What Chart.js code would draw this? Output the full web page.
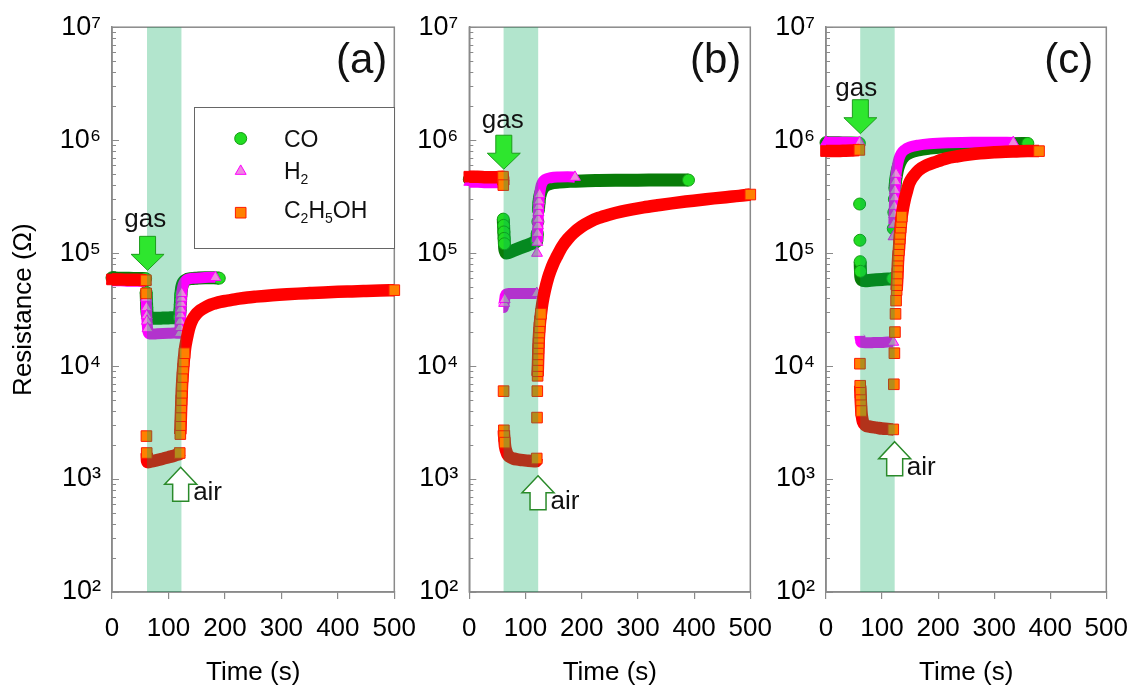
<!DOCTYPE html>
<html><head><meta charset="utf-8">
<script src="https://cdn.jsdelivr.net/npm/chart.js@4.4.0/dist/chart.umd.min.js"></script>
<style>
html,body{margin:0;padding:0;background:#fff;width:1142px;height:691px;overflow:hidden;}
canvas{position:absolute;top:0;}
</style></head>
<body>
<canvas id="ca" width="430" height="691" style="left:0px;width:430px;height:691px"></canvas>
<canvas id="cb" width="386" height="691" style="left:400px;width:386px;height:691px"></canvas>
<canvas id="cc" width="382" height="691" style="left:760px;width:382px;height:691px"></canvas>
<script>
// ---------------- DATA ----------------
const seriesNames = ['CO', 'H₂', 'C₂H₅OH'];
const panelLabels = ['(a)', '(b)', '(c)'];

// Panel (a)
const tA_CO = [0, 15, 30, 45, 59.5, 60.5, 61, 61.5, 62, 63, 64, 66, 70, 80, 90, 100, 110, 119.5, 120.5, 121, 121.5, 122, 123, 124, 126, 129, 133, 140, 150, 165, 180, 190];
const rA_CO = [60500, 60000, 60000, 59500, 59500, 45000, 38000, 33000, 30000, 28000, 27000, 26600, 26500, 26500, 26600, 26700, 26800, 27000, 31000, 35000, 39000, 43000, 48000, 51000, 54500, 57000, 58500, 59500, 60000, 60500, 60500, 60000];
const tA_H2 = [0, 15, 30, 45, 60, 60.5, 61, 61.5, 62, 62.5, 63, 64, 66, 70, 80, 90, 100, 110, 120, 120.5, 121, 121.5, 122, 122.5, 123, 123.5, 124.5, 126, 128, 131, 135, 145, 160, 172, 183];
const rA_H2 = [57000, 57000, 56500, 56500, 56000, 40000, 33000, 28000, 25000, 23000, 21500, 20000, 19300, 19200, 19300, 19400, 19500, 19600, 19500, 22000, 25000, 28500, 32000, 36000, 40000, 44000, 48000, 52000, 55000, 57500, 59000, 60000, 60500, 61000, 61000];
const tA_Et = [0, 15, 30, 45, 60, 60.5, 61, 61.5, 62, 64, 67, 70, 80, 90, 100, 110, 117, 120, 121, 121.5, 122, 122.5, 123, 123.5, 124, 125, 126, 127, 128.5, 130, 132, 134, 136, 139, 142, 146, 150, 155, 160, 167, 175, 183, 192, 202, 212, 225, 240, 255, 270, 290, 310, 330, 350, 375, 400, 425, 450, 475, 500];
const rA_Et = [58500, 58500, 58000, 58000, 57500, 44000, 2400, 1700, 1450, 1410, 1420, 1430, 1470, 1510, 1560, 1610, 1650, 1700, 2500, 3000, 3600, 4300, 5000, 5800, 6700, 8000, 9500, 11000, 13000, 15000, 17000, 19000, 21000, 23500, 25500, 27500, 29200, 30800, 32000, 33500, 35000, 36000, 37000, 37800, 38500, 39500, 40500, 41200, 41800, 42500, 43200, 43800, 44300, 44900, 45400, 45800, 46200, 46600, 47000];

// Panel (b)
const tB_CO = [0, 15, 30, 45, 59.5, 60.5, 61, 61.5, 62, 62.5, 63, 64, 66, 70, 80, 90, 100, 110, 118, 120, 121, 122, 123, 124, 125, 127, 130, 135, 145, 160, 180, 200, 230, 260, 290, 320, 350, 380, 390];
const rB_CO = [450000, 450000, 445000, 445000, 440000, 200000, 176000, 154000, 135000, 121000, 110000, 104000, 100000, 101000, 106000, 111000, 116000, 121000, 126000, 128000, 150000, 190000, 240000, 280000, 310000, 340000, 370000, 395000, 415000, 425000, 432000, 436000, 439000, 441000, 442000, 443000, 443000, 443000, 443000];
const tB_H2 = [0, 15, 30, 45, 60, 60.5, 61, 62, 63, 64, 66, 70, 80, 90, 100, 110, 120, 120.5, 121, 121.5, 122, 122.5, 123, 123.5, 124, 125, 126.5, 128, 131, 135, 145, 160, 175, 188];
const rB_H2 = [425000, 425000, 420000, 420000, 420000, 33000, 34000, 36000, 39000, 42000, 43500, 44000, 44000, 44000, 44000, 44000, 44000, 100000, 125000, 150000, 175000, 200000, 230000, 260000, 290000, 330000, 370000, 400000, 430000, 450000, 465000, 472000, 475000, 470000];
const tB_Et = [0, 15, 30, 45, 60, 60.5, 61, 61.5, 62, 63, 64, 66, 68, 72, 78, 85, 95, 105, 115, 119, 120, 120.5, 121, 121.5, 121.8, 122.1, 122.4, 122.7, 123, 123.4, 123.8, 124.3, 125, 126, 127.5, 130, 135, 140, 145, 150, 155, 165, 175, 185, 200, 215, 230, 250, 270, 290, 310, 335, 360, 385, 410, 435, 460, 480, 500];
const rB_Et = [475000, 475000, 470000, 470000, 475000, 400000, 6000, 2700, 2400, 2100, 1900, 1750, 1650, 1570, 1520, 1490, 1470, 1450, 1440, 1440, 1520, 3500, 6000, 8200, 9000, 10000, 11300, 12700, 14300, 16000, 17800, 19800, 22000, 25000, 29000, 36000, 48000, 60000, 71000, 82000, 92000, 114000, 133000, 150000, 172000, 190000, 205000, 220000, 233000, 244000, 254000, 265000, 276000, 286000, 295000, 305000, 314000, 321000, 330000];

// Panel (c)
const tC_CO = [0, 15, 30, 45, 59.5, 60, 60.5, 61, 61.5, 62, 64, 70, 80, 90, 100, 110, 119, 120, 121, 122, 123, 124, 126, 128, 131, 135, 140, 150, 165, 185, 210, 240, 270, 300, 330, 360];
const rC_CO = [950000, 950000, 945000, 945000, 940000, 272000, 130000, 84000, 69000, 62000, 58000, 57000, 57500, 58000, 58500, 59000, 59500, 165000, 230000, 300000, 370000, 430000, 500000, 560000, 620000, 680000, 730000, 780000, 820000, 850000, 875000, 895000, 910000, 920000, 930000, 935000];
const tC_H2 = [0, 15, 30, 45, 60, 60.5, 61, 62, 64, 70, 80, 90, 100, 110, 120, 120.5, 121, 121.5, 122, 122.5, 123, 124, 125, 127, 130, 134, 140, 150, 165, 185, 220, 260, 300, 334];
const rC_H2 = [960000, 960000, 960000, 955000, 955000, 18500, 17500, 16500, 16200, 16100, 16100, 16200, 16200, 16300, 16300, 140000, 180000, 220000, 260000, 310000, 360000, 430000, 500000, 580000, 680000, 760000, 820000, 870000, 905000, 930000, 950000, 960000, 960000, 955000];
const tC_Et = [0, 15, 30, 45, 59.5, 60.5, 61, 61.5, 62, 62.5, 63, 64, 66, 70, 80, 90, 100, 110, 120, 121, 122, 123, 124, 125, 126, 126.5, 127, 127.5, 128, 128.5, 129, 130, 130.7, 131.4, 132, 133, 134, 135, 136.5, 138, 140, 142, 144.5, 148, 152, 156, 165, 180, 195, 215, 235, 255, 275, 300, 320, 340, 360, 380];
const rC_Et = [800000, 800000, 805000, 810000, 820000, 10500, 6700, 5800, 5000, 4500, 4000, 3600, 3200, 3000, 2900, 2850, 2800, 2780, 2750, 6900, 13000, 20000, 29000, 38000, 47000, 52000, 58000, 66000, 76000, 86000, 95000, 106000, 120000, 134000, 148000, 168000, 188000, 210000, 235000, 260000, 290000, 320000, 355000, 410000, 450000, 480000, 540000, 600000, 640000, 690000, 720000, 745000, 765000, 780000, 790000, 795000, 800000, 800000];

// gas exposure window (s)
const gasOnT = [62, 61, 61];
const gasOffT = [123, 122.6, 122.5];

// axis ticks
const xTicks = [0, 100, 200, 300, 400, 500];
const yMajor = [1e2, 1e3, 1e4, 1e5, 1e6, 1e7];
const yMajorLabels = ['10²', '10³', '10⁴', '10⁵', '10⁶', '10⁷'];

// annotation anchors (time, resistance)
const gasTipT = [63, 61.4, 61.3];
const gasTipR = [70400, 553000, 1140000];
const gasTextT = [59, 59.6, 54];
const gasTextR = [172000, 1270000, 2480000];
const airTipT = [121.6, 122.3, 122.5];
const airTipR = [1270, 1070, 2140];
const airTextT = [143.7, 144.6, 144];
const airTextR = [646, 538, 1077];

// ---------------- STYLE ----------------
const FONT = "'Liberation Sans', Arial, Helvetica, sans-serif";
const AXIS_COLOR = '#8a8a8a';
Chart.defaults.font.family = FONT;
Chart.defaults.color = '#000';

const seriesStyles = [
  {pointStyle: 'circle', radius: 6, fill: '#22dd22', border: '#139a13', band: '#087c08', bandWidth: 13},
  {pointStyle: 'triangle', radius: 6.3, fill: '#ee88e0', border: '#ff00ff', band: '#ff00ff', bandWidth: 11},
  {pointStyle: 'rect', radius: 7.5, fill: '#ff8000', border: '#ff1a00', band: '#ff0000', bandWidth: 12.5}
];
// a marker shows on its own when the signal moves faster than this (decades per second)
const ISOLATION_RATE = 0.03;

const yAllTicks = [];
yMajor.forEach((v, d) => {
  yAllTicks.push(v);
  if (d < yMajor.length - 1) for (let m = 2; m <= 9; m++) yAllTicks.push(v * m);
});

const panels = [
  {id: 'ca', times: [tA_CO, tA_H2, tA_Et], values: [rA_CO, rA_H2, rA_Et], yWidth: 112, padRight: 32, yTitle: true, labelDx: 7},
  {id: 'cb', times: [tB_CO, tB_H2, tB_Et], values: [rB_CO, rB_H2, rB_Et], yWidth: 69.3, padRight: 31.7, yTitle: false, labelDx: 9},
  {id: 'cc', times: [tC_CO, tC_H2, tC_Et], values: [rC_CO, rC_H2, rC_Et], yWidth: 66, padRight: 30.3, yTitle: false, labelDx: 13}
];

function isolated(c) {
  if (c.dataIndex == null || !c.dataset) return true;
  const d = c.dataset.data, i = c.dataIndex;
  if (i >= d.length - 1) return true;
  const dt = Math.max(d[i + 1].x - d[i].x, 1);
  return Math.abs(Math.log10(d[i + 1].y / d[i].y)) / dt > ISOLATION_RATE;
}
// a jump between consecutive readings leaves a visible gap between markers
function hiddenSegment(c) {
  return Math.abs(c.p1.y - c.p0.y) > 10 && Math.abs(c.p1.x - c.p0.x) < 1.2;
}

function buildDatasets(p) {
  return seriesNames.map((name, k) => {
    const st = seriesStyles[k];
    const ts = p.times[k], rs = p.values[k];
    return {
      label: name,
      data: ts.map((t, i) => ({x: t, y: rs[i]})),
      order: 2 - k,
      clip: false,
      showLine: true,
      fill: false,
      borderColor: st.band,
      borderWidth: st.bandWidth,
      borderCapStyle: 'butt',
      borderJoinStyle: 'round',
      cubicInterpolationMode: 'monotone',
      pointStyle: st.pointStyle,
      pointRadius: c => (isolated(c) || c.dataIndex === 0) ? st.radius : 0,
      pointHoverRadius: st.radius,
      pointBorderWidth: 1,
      pointBackgroundColor: c => (isolated(c) && c.dataIndex !== 0) ? st.fill : st.band,
      pointBorderColor: c => (isolated(c) && c.dataIndex !== 0) ? st.border : st.band,
      segment: {borderColor: c => hiddenSegment(c) ? 'rgba(0,0,0,0)' : undefined}
    };
  });
}

function drawMarker(ctx, st, x, y) {
  ctx.save();
  ctx.fillStyle = st.fill; ctx.strokeStyle = st.border; ctx.lineWidth = 1;
  if (Chart.helpers && Chart.helpers.drawPoint) {
    Chart.helpers.drawPoint(ctx, {pointStyle: st.pointStyle, radius: st.radius, rotation: 0, borderWidth: 1}, x, y);
  } else {
    ctx.beginPath(); ctx.arc(x, y, st.radius, 0, Math.PI * 2); ctx.fill(); ctx.stroke();
  }
  ctx.restore();
}

// draws a label, rendering Unicode subscript digits as smaller lowered digits
const SUBS = '₀₁₂₃₄₅₆₇₈₉';
function drawChemText(ctx, text, x, y, size) {
  let cx = x;
  for (const ch of text) {
    const j = SUBS.indexOf(ch);
    if (j >= 0) {
      ctx.font = Math.round(size * 0.62) + 'px ' + FONT;
      ctx.fillText(String(j), cx, y + size * 0.25);
      cx += ctx.measureText(String(j)).width;
    } else {
      ctx.font = size + 'px ' + FONT;
      ctx.fillText(ch, cx, y);
      cx += ctx.measureText(ch).width;
    }
  }
}

function downArrow(ctx, x, tipY) {
  const len = 34, sw = 16, hw = 33, hh = 16;
  ctx.save();
  ctx.beginPath();
  ctx.moveTo(x - sw / 2, tipY - len);
  ctx.lineTo(x + sw / 2, tipY - len);
  ctx.lineTo(x + sw / 2, tipY - hh);
  ctx.lineTo(x + hw / 2, tipY - hh);
  ctx.lineTo(x, tipY);
  ctx.lineTo(x - hw / 2, tipY - hh);
  ctx.lineTo(x - sw / 2, tipY - hh);
  ctx.closePath();
  ctx.fillStyle = '#2ee62e'; ctx.fill();
  ctx.strokeStyle = '#1c9c1c'; ctx.lineWidth = 1; ctx.stroke();
  ctx.restore();
}
function upArrow(ctx, x, tipY) {
  const len = 34, sw = 16, hw = 32, hh = 17;
  ctx.save();
  ctx.beginPath();
  ctx.moveTo(x, tipY);
  ctx.lineTo(x + hw / 2, tipY + hh);
  ctx.lineTo(x + sw / 2, tipY + hh);
  ctx.lineTo(x + sw / 2, tipY + len);
  ctx.lineTo(x - sw / 2, tipY + len);
  ctx.lineTo(x - sw / 2, tipY + hh);
  ctx.lineTo(x - hw / 2, tipY + hh);
  ctx.closePath();
  ctx.fillStyle = '#ffffff'; ctx.fill();
  ctx.strokeStyle = '#2a8a2a'; ctx.lineWidth = 1.5; ctx.stroke();
  ctx.restore();
}

const panelPlugin = {
  id: 'panelDeco',
  beforeDatasetsDraw(chart) {
    const {ctx, chartArea: a} = chart;
    const ys = chart.scales.y;
    ctx.save();
    ctx.strokeStyle = AXIS_COLOR;
    ctx.lineWidth = 1.5;
    ctx.strokeRect(a.left, a.top, a.right - a.left, a.bottom - a.top);
    ctx.lineWidth = 1;
    ctx.beginPath();
    yAllTicks.forEach(v => {
      const py = Math.round(ys.getPixelForValue(v)) + 0.5;
      const len = yMajor.includes(v) ? 7 : 4;
      ctx.moveTo(a.left, py); ctx.lineTo(a.left + len, py);
    });
    ctx.stroke();
    ctx.restore();
  },
  afterDatasetsDraw(chart, args, opts) {
    const i = opts.panel;
    const p = panels[i];
    const {ctx, chartArea: a} = chart;
    const xs = chart.scales.x, ys = chart.scales.y;
    ctx.save();
    const x0 = xs.getPixelForValue(gasOnT[i]), x1 = xs.getPixelForValue(gasOffT[i]);
    ctx.fillStyle = 'rgba(0,170,90,0.3)';
    ctx.fillRect(x0, a.top, x1 - x0, a.bottom - a.top);
    downArrow(ctx, xs.getPixelForValue(gasTipT[i]), ys.getPixelForValue(gasTipR[i]));
    upArrow(ctx, xs.getPixelForValue(airTipT[i]), ys.getPixelForValue(airTipR[i]));
    ctx.fillStyle = '#111';
    ctx.font = '26px ' + FONT;
    ctx.textBaseline = 'alphabetic';
    ctx.textAlign = 'center';
    ctx.fillText('gas', xs.getPixelForValue(gasTextT[i]), ys.getPixelForValue(gasTextR[i]));
    ctx.textAlign = 'left';
    ctx.fillText('air', xs.getPixelForValue(airTextT[i]), ys.getPixelForValue(airTextR[i]));
    ctx.font = '42px ' + FONT;
    ctx.textAlign = 'right';
    ctx.fillText(panelLabels[i], a.right - p.labelDx, a.top + 46);
    if (i === 0) {
      const bx = a.left + 82, by = a.top + 80, bw = 200, bh = 141;
      ctx.fillStyle = '#fff';
      ctx.fillRect(bx, by, bw, bh);
      ctx.strokeStyle = '#666'; ctx.lineWidth = 1;
      ctx.strokeRect(Math.round(bx) + 0.5, Math.round(by) + 0.5, bw, bh);
      const mx = a.left + 128.7, tx = a.left + 172;
      const rowsMarker = [111.3, 144, 185.5];
      const rowsText = [119.7, 151.3, 190.3];
      ctx.textAlign = 'left';
      seriesNames.forEach((nm, k) => {
        drawMarker(ctx, seriesStyles[k], mx, a.top + rowsMarker[k]);
        ctx.fillStyle = '#111';
        drawChemText(ctx, nm, tx, a.top + rowsText[k], 23);
      });
    }
    ctx.restore();
  }
};

panels.forEach((p, i) => {
  new Chart(document.getElementById(p.id), {
    type: 'line',
    data: {datasets: buildDatasets(p)},
    plugins: [panelPlugin],
    options: {
      responsive: false,
      animation: false,
      devicePixelRatio: 1,
      events: [],
      layout: {padding: {left: 0, right: p.padRight, top: 22, bottom: 0}},
      plugins: {
        legend: {display: false},
        tooltip: {enabled: false},
        panelDeco: {panel: i}
      },
      scales: {
        x: {
          type: 'linear', min: 0, max: 500,
          afterBuildTicks: s => { s.ticks = xTicks.map(v => ({value: v})); },
          ticks: {font: {size: 26}, color: '#000', padding: 14, maxRotation: 0, autoSkip: false},
          grid: {drawOnChartArea: false, drawTicks: true, tickLength: 7, color: AXIS_COLOR, lineWidth: 1.2},
          border: {display: true, color: AXIS_COLOR, width: 1.5},
          title: {display: true, text: 'Time (s)', font: {size: 26}, color: '#000', padding: {top: 0, bottom: 3}},
          afterFit: s => { s.height = 99; }
        },
        y: {
          type: 'logarithmic', min: 100, max: 1e7,
          afterBuildTicks: s => { s.ticks = yAllTicks.map(v => ({value: v, major: yMajor.includes(v)})); },
          ticks: {
            font: {size: 27}, color: '#000', padding: 11, autoSkip: false,
            callback: v => { const j = yMajor.indexOf(v); return j >= 0 ? yMajorLabels[j] : ''; }
          },
          grid: {display: false, drawTicks: false, tickLength: 0},
          border: {display: true, color: AXIS_COLOR, width: 1.5},
          title: {display: p.yTitle, text: 'Resistance (Ω)', font: {size: 26}, color: '#000', padding: {top: 8, bottom: 0}},
          afterFit: s => { s.width = p.yWidth; }
        }
      }
    }
  });
});
</script>
</body></html>
